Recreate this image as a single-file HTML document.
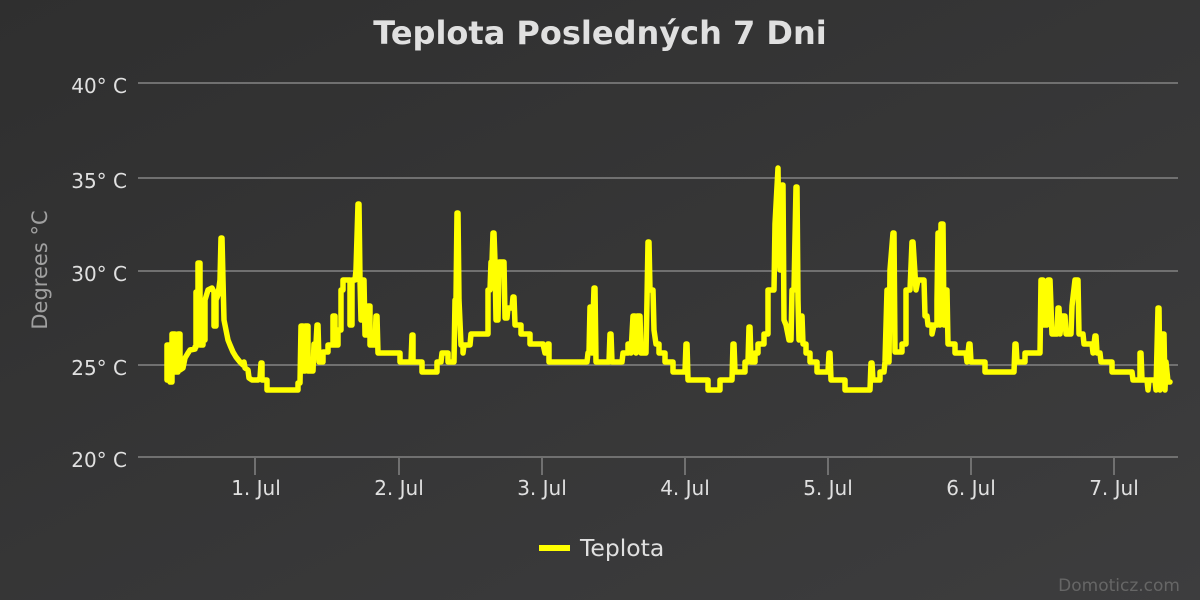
<!DOCTYPE html>
<html><head><meta charset="utf-8"><style>
html,body{margin:0;padding:0;width:1200px;height:600px;overflow:hidden;background:#333;}
svg{display:block;font-family:"DejaVu Sans","Liberation Sans",sans-serif;}
</style></head><body>
<svg width="1200" height="600" viewBox="0 0 1200 600">
<defs><linearGradient id="bg" x1="0" y1="0" x2="1" y2="1"><stop offset="0" stop-color="#2f2f2f"/><stop offset="1" stop-color="#3d3d3e"/></linearGradient></defs>
<rect width="1200" height="600" fill="url(#bg)"/>
<text x="600" y="44" text-anchor="middle" font-size="32" font-weight="bold" fill="#e0e0e0">Teplota Posledných 7 Dni</text>
<g stroke="#707070" stroke-width="2">
<line x1="138" y1="83" x2="1178" y2="83"/><line x1="138" y1="178" x2="1178" y2="178"/>
<line x1="138" y1="271" x2="1178" y2="271"/><line x1="138" y1="365" x2="1178" y2="365"/>
<line x1="138" y1="457" x2="1178" y2="457"/>
<line x1="255" y1="457" x2="255" y2="475"/><line x1="399" y1="457" x2="399" y2="475"/>
<line x1="542" y1="457" x2="542" y2="475"/><line x1="685" y1="457" x2="685" y2="475"/>
<line x1="828" y1="457" x2="828" y2="475"/><line x1="971" y1="457" x2="971" y2="475"/>
<line x1="1114" y1="457" x2="1114" y2="475"/>
</g>
<g font-size="20" fill="#e0e0e0" text-anchor="end">
<text x="127" y="93">40° C</text><text x="127" y="188">35° C</text><text x="127" y="281">30° C</text>
<text x="127" y="375">25° C</text><text x="127" y="467">20° C</text>
</g>
<g font-size="20" fill="#e0e0e0" text-anchor="middle">
<text x="256" y="495">1. Jul</text><text x="399" y="495">2. Jul</text><text x="542" y="495">3. Jul</text>
<text x="685" y="495">4. Jul</text><text x="828" y="495">5. Jul</text><text x="971" y="495">6. Jul</text>
<text x="1114" y="495">7. Jul</text>
</g>
<text transform="translate(47,270) rotate(-90)" text-anchor="middle" font-size="21" fill="#a0a0a0">Degrees °C</text>
<polyline fill="none" stroke="#ffff00" stroke-width="5.5" stroke-linejoin="round" stroke-linecap="round" points="167,380 167,345 170,345 170,382 172,382 172,334 175,334 175,372 178,372 178,334 180,334 180,370 183,368 185,358 188,353 190,350 195,349 195,347 196,347 196,292 198,292 198,263 200,263 200,345 203,345 203,340 205,340 205,300 208,290 212,288 214,292 214,326 216,326 216,300 218,295 220,280 221,238 222,238 223,280 224,320 226,330 228,340 230,345 233,352 236,357 240,362 243,365 244,362 245,368 248,370 249,378 252,380 258,380 260,378 261,363 262,363 262,380 267,380 267,390 298,390 298,383 300,383 301,326 303,326 303,371 305,371 305,326 308,326 308,371 313,371 314,344 316,344 317,325 318,325 319,362 323,362 323,352 328,352 328,345 333,345 333,316 335,316 335,345 338,345 338,330 341,330 341,290 343,290 343,280 350,280 350,325 352,325 352,280 355,280 356,270 358,204 359,204 360,280 361,320 363,280 364,280 365,335 368,335 368,306 370,306 370,345 375,345 376,316 377,316 378,353 400,353 400,362 411,362 412,335 413,335 413,362 422,362 422,372 437,372 437,362 441,362 442,353 448,353 448,362 454,362 455,300 456,300 457,213 458,213 459,300 461,345 463,345 463,353 464,345 470,345 471,334 488,334 488,290 490,290 491,262 492,262 493,233 494,233 495,262 496,320 498,320 499,262 504,262 505,318 507,318 508,308 512,308 513,297 514,297 515,325 521,325 521,334 530,334 530,344 543,344 545,353 547,353 548,344 549,344 549,362 587,362 588,353 589,353 590,307 591,307 592,353 594,288 595,288 596,362 609,362 610,334 611,334 612,362 622,362 623,353 628,353 628,344 631,344 631,353 633,316 635,316 636,353 637,316 640,316 641,353 646,353 647,300 648,242 649,242 650,290 653,290 654,330 656,344 659,344 659,353 665,353 665,362 673,362 673,372 685,372 686,344 687,344 688,380 708,380 708,390 720,390 720,380 732,380 733,344 734,344 735,372 745,372 745,362 748,362 749,327 750,327 751,362 755,362 755,353 758,353 758,344 764,344 764,334 768,334 768,290 774,290 775,224 778,168 779,250 780,270 782,185 783,185 784,320 786,325 789,340 791,340 792,290 794,290 796,187 797,187 798,300 799,340 800,320 802,316 803,344 806,344 806,353 810,353 810,362 817,362 817,372 828,372 829,353 830,353 831,380 845,380 845,390 870,390 871,363 872,363 873,380 880,380 880,372 884,372 885,362 887,290 888,290 889,362 890,270 893,233 894,233 895,352 902,352 902,344 906,344 906,290 910,290 912,242 913,242 916,290 918,280 924,280 925,316 927,316 928,325 932,325 932,334 934,325 937,325 937,300 938,233 939,233 940,325 941,224 943,224 944,325 946,290 947,290 948,344 955,344 955,353 966,353 967,362 969,344 970,344 971,362 985,362 985,372 1014,372 1015,344 1016,344 1017,362 1025,362 1025,353 1040,353 1041,280 1043,280 1044,325 1047,325 1048,280 1050,280 1052,334 1057,334 1058,308 1059,308 1060,334 1062,316 1065,316 1066,334 1071,334 1072,306 1075,280 1078,280 1079,334 1083,334 1084,344 1092,344 1093,353 1095,336 1096,336 1097,353 1100,353 1101,362 1112,362 1112,372 1132,372 1133,380 1140,380 1140,353 1141,353 1142,380 1147,380 1148,390 1149,380 1155,380 1156,390 1158,308 1159,308 1160,390 1162,334 1164,334 1165,390 1166,362 1168,382 1170,382"/>
<line x1="539" y1="548" x2="570" y2="548" stroke="#ffff00" stroke-width="6"/>
<text x="580" y="556" font-size="23.5" fill="#e0e0e0">Teplota</text>
<text x="1180" y="591" text-anchor="end" font-size="17" fill="#666">Domoticz.com</text>
</svg>
</body></html>
